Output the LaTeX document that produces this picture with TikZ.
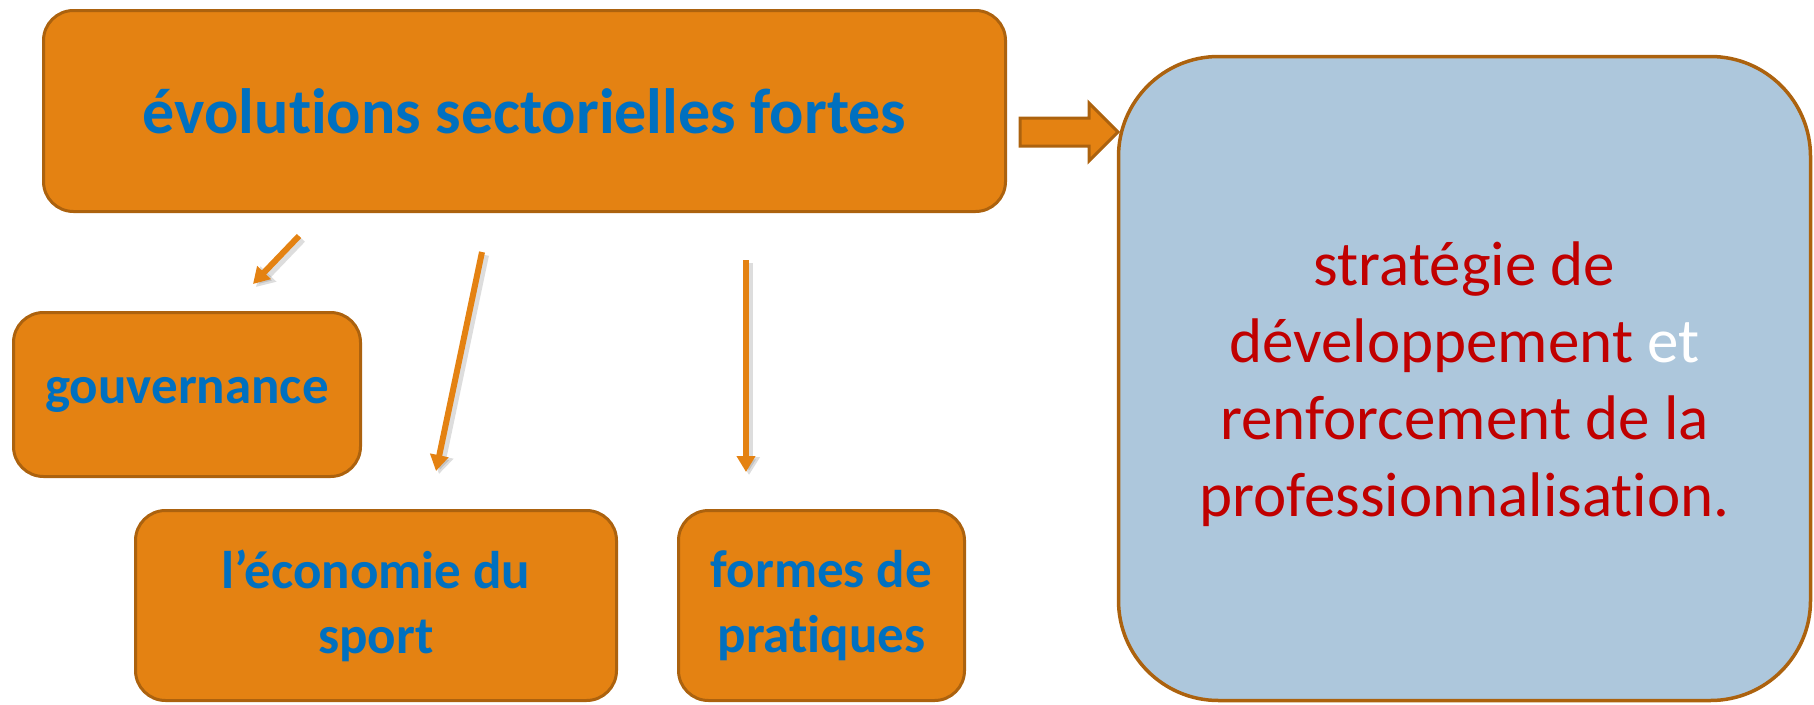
\documentclass[tikz,border=0pt]{standalone}
\usepackage{fontspec}
\setmainfont[Ligatures=NoCommon]{Carlito}
\usetikzlibrary{arrows.meta}
\definecolor{orfill}{RGB}{228,130,18}
\definecolor{orline}{RGB}{172,98,14}
\definecolor{bluefill}{RGB}{173,199,220}
\definecolor{txtblue}{RGB}{0,112,192}
\definecolor{txtred}{RGB}{192,0,0}
\tikzset{
  obox/.style={draw=orline, fill=orfill, line width=3pt, rounded corners=30pt,
    inner sep=0pt, align=center, text=txtblue, font=\bfseries\fontsize{53}{65}\selectfont},
  bbox/.style={draw=orline, fill=bluefill, line width=3.5pt, rounded corners=100pt,
    inner sep=0pt, align=center, text=txtred, font=\fontsize{63}{77}\selectfont},
  conn/.style={draw=orfill, line width=6pt, -{Triangle[width=18pt,length=16pt]}},
  connshadow/.style={draw=black!60, opacity=0.22, line width=8pt, -{Triangle[width=21pt,length=18pt]}},
  bigarrow/.style={draw=orline, fill=orfill, line width=3pt, line join=miter}
}
\begin{document}
\begin{tikzpicture}[x=1pt,y=-1pt]
\useasboundingbox (0,0) rectangle (1814,704);
% boxes
\node[obox, minimum width=962pt, minimum height=201pt,
      font=\bfseries\fontsize{64}{78}\selectfont] (top) at (524.5,111) {évolutions sectorielles fortes};
\node[obox, minimum width=347pt, minimum height=164pt] (gouv) at (187,394.5) {gouvernance};
\node[obox, minimum width=481pt, minimum height=190pt] (eco) at (376,605.5) {l’économie du\\sport};
\node[obox, minimum width=286pt, minimum height=190pt] (formes) at (821.5,605.5) {formes de\\pratiques};
\node[bbox, minimum width=692pt, minimum height=644pt] (strat) at (1464.5,378.5) {};
\node[align=center, text=txtred, font=\fontsize{63}{77}\selectfont, inner sep=0pt] (strattext) at ([yshift=-6pt]strat.center)
  {stratégie de\\développement \textcolor{white}{et}\\renforcement de la\\professionnalisation.};
% connector end points
\coordinate (a1s) at (299,236); \coordinate (a1e) at (253,284);
\coordinate (a2s) at (482,252); \coordinate (a2e) at (436,471);
\coordinate (a3s) at (746,260); \coordinate (a3e) at (746,472);
% shadows
\foreach \s/\e in {a1s/a1e, a2s/a2e, a3s/a3e}{
  \draw[connshadow] ([shift={(3,3)}]\s) -- ([shift={(3,3)}]\e);
}
% arrows
\draw[conn] (a1s) -- (a1e);
\draw[conn] (a2s) -- (a2e);
\draw[conn] (a3s) -- (a3e);
% block arrow
\draw[bigarrow] (1020,118) -- (1089,118) -- (1089,103) -- (1118,132) -- (1089,161) -- (1089,146) -- (1020,146) -- cycle;
\end{tikzpicture}
\end{document}
